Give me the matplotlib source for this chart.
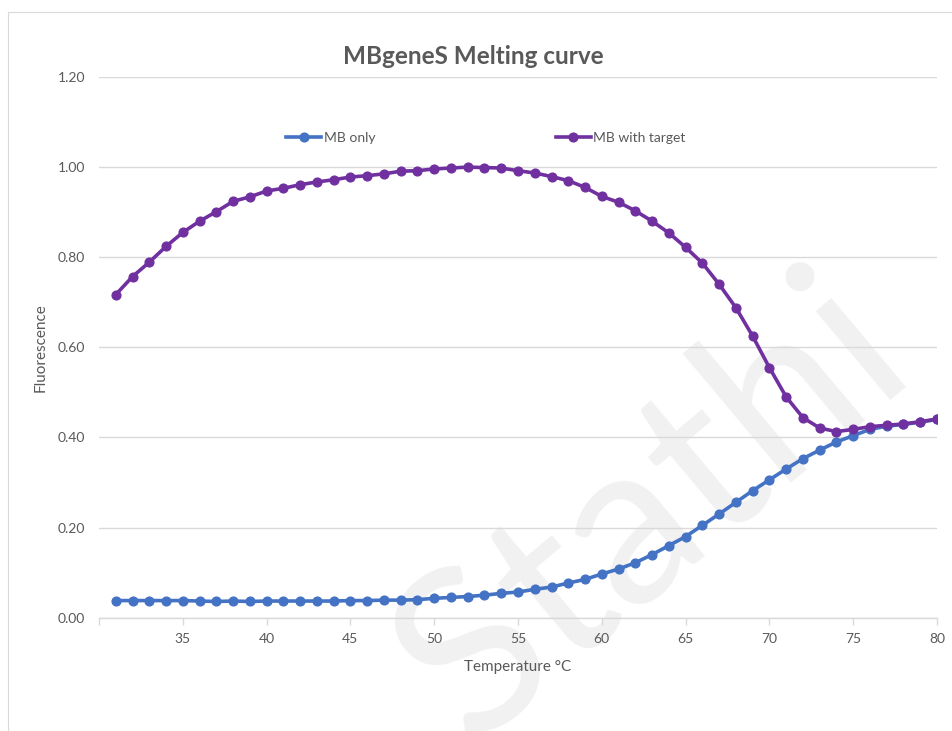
import matplotlib.pyplot as plt
from matplotlib.patches import Rectangle

# melting curve readings, one per degree
temperature = list(range(31, 81))
mb_only = [
    0.038, 0.038, 0.038, 0.038, 0.038, 0.037, 0.036, 0.037, 0.036, 0.037,
    0.037, 0.037, 0.037, 0.037, 0.038, 0.038, 0.039, 0.039, 0.040, 0.043,
    0.045, 0.047, 0.050, 0.054, 0.057, 0.063, 0.068, 0.077, 0.085, 0.097,
    0.108, 0.122, 0.140, 0.160, 0.180, 0.205, 0.230, 0.256, 0.282, 0.306,
    0.330, 0.353, 0.372, 0.390, 0.404, 0.418, 0.425, 0.429, 0.434, 0.440,
]
mb_with_target = [
    0.717, 0.757, 0.789, 0.824, 0.855, 0.880, 0.901, 0.924, 0.934, 0.947,
    0.953, 0.961, 0.967, 0.972, 0.978, 0.981, 0.985, 0.991, 0.992, 0.996,
    0.998, 1.000, 0.999, 0.998, 0.992, 0.987, 0.979, 0.970, 0.955, 0.935,
    0.922, 0.903, 0.880, 0.854, 0.822, 0.787, 0.740, 0.688, 0.625, 0.555,
    0.490, 0.444, 0.421, 0.413, 0.418, 0.424, 0.427, 0.430, 0.435, 0.441,
]
x_ticks = list(range(30, 81, 5))
x_tick_labels = [''] + [str(t) for t in x_ticks[1:]]
y_ticks = [0.0, 0.2, 0.4, 0.6, 0.8, 1.0, 1.2]

BLUE = '#4472C4'
PURPLE = '#7030A0'
TEXT = '#595959'
GRID = '#D9D9D9'

plt.rcParams['font.family'] = ['Lato', 'DejaVu Sans']

fig = plt.figure(figsize=(9.52, 7.31), dpi=100)

# chart frame
fig.patches.append(Rectangle((8 / 952, -0.1), 1.2, 1 - 12 / 731 + 0.1,
                             transform=fig.transFigure, fill=False,
                             edgecolor='#D9D9D9', linewidth=0.8))

# faint watermark behind the plot
fig.text(470 / 952, -15 / 731, 'Stathi', rotation=40, fontsize=165,
         color='#F1F1F1', ha='left', va='baseline', fontweight='normal',
         rotation_mode='anchor', zorder=0)

ax = fig.add_axes([99 / 952, 1 - 617.7 / 731, 838 / 952, (617.7 - 77) / 731])
ax.set_facecolor('none')
ax.set_zorder(1)

ax.plot(temperature, mb_only, color=BLUE, linewidth=2.6, marker='o',
        markersize=6.3, label='MB only', zorder=3)
ax.plot(temperature, mb_with_target, color=PURPLE, linewidth=2.6, marker='o',
        markersize=6.3, label='MB with target', zorder=4)

ax.set_xlim(30, 80)
ax.set_ylim(0, 1.2)
ax.set_xticks(x_ticks)
ax.set_xticklabels(x_tick_labels)
ax.set_yticks(y_ticks)
ax.set_yticklabels(['%.2f' % v for v in y_ticks])

ax.grid(axis='y', color=GRID, linewidth=1.0)
ax.set_axisbelow(True)
for side in ['top', 'right', 'left']:
    ax.spines[side].set_visible(False)
ax.spines['bottom'].set_color(GRID)
ax.spines['bottom'].set_linewidth(1.0)

ax.tick_params(axis='x', colors=GRID, length=5, width=1.0, labelcolor=TEXT,
               labelsize=10, pad=6)
ax.tick_params(axis='y', length=0, labelcolor=TEXT, labelsize=10, pad=10)

ax.set_xlabel('Temperature °C', color=TEXT, fontsize=11, labelpad=11)
ax.set_ylabel('Fluorescence', color=TEXT, fontsize=11, labelpad=7)

fig.text(473 / 952, 1 - 57 / 731, 'MBgeneS Melting curve', ha='center',
         va='center', fontsize=17.5, fontweight='bold', color=TEXT)

ax.legend(loc='center', bbox_to_anchor=(0.462, 0.887), ncol=2,
          frameon=False, fontsize=10, labelcolor=TEXT, columnspacing=13,
          handlelength=2.5, handletextpad=0.2)

plt.savefig('out.png', dpi=100)
